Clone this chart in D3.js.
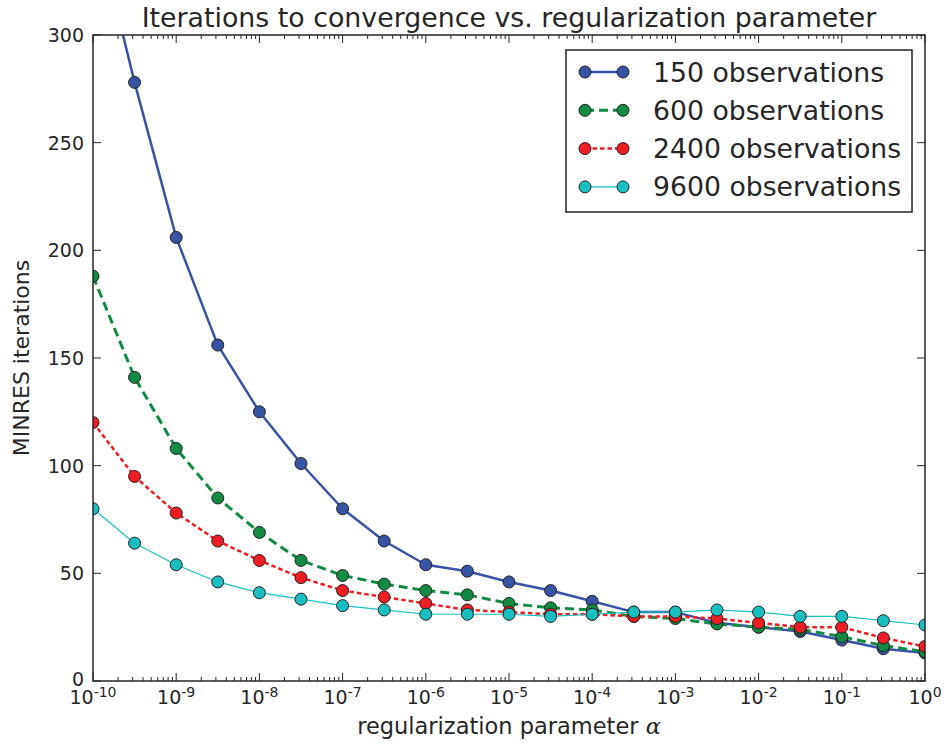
<!DOCTYPE html>
<html>
<head>
<meta charset="utf-8">
<script src="https://cdn.jsdelivr.net/npm/d3@7"></script>
<style>
  html, body { margin: 0; padding: 0; background: #fff; }
  svg { display: block; font-family: "DejaVu Sans", sans-serif; }
</style>
</head>
<body>
<svg id="chart" width="944" height="744"></svg>
<script>
// ---- data ----
const alphas = [1e-10, 3.16e-10, 1e-9, 3.16e-9, 1e-8, 3.16e-8, 1e-7, 3.16e-7, 1e-6, 3.16e-6,
                1e-5, 3.16e-5, 1e-4, 3.16e-4, 1e-3, 3.16e-3, 1e-2, 3.16e-2, 1e-1, 3.16e-1, 1];
const obs150  = [357, 278, 206, 156, 125, 101, 80, 65, 54, 51, 46, 42, 37, 32, 32, 27, 25, 23, 19, 15, 13];
const obs600  = [188, 141, 108, 85, 69, 56, 49, 45, 42, 40, 36, 34, 33, 30, 29, 26.5, 25, 24, 20.6, 16.4, 13.6];
const obs2400 = [120, 95, 78, 65, 56, 48, 42, 39, 36, 33, 32, 31, 31, 30, 30, 29, 27, 25, 25, 20, 16];
const obs9600 = [80, 64, 54, 46, 41, 38, 35, 33, 31, 31, 31, 30, 31, 32, 32, 33, 32, 30, 30, 28, 26];
const seriesNames = ["150 observations", "600 observations", "2400 observations", "9600 observations"];
const yTicks = [0, 50, 100, 150, 200, 250, 300];
const xExponents = [-10, -9, -8, -7, -6, -5, -4, -3, -2, -1, 0];

const series = [
  { name: seriesNames[0], values: obs150,  color: "#3953a4", width: 2.5, dash: null },
  { name: seriesNames[1], values: obs600,  color: "#138a43", width: 3,   dash: "9,5" },
  { name: seriesNames[2], values: obs2400, color: "#ee1d23", width: 2.5, dash: "4.5,3" },
  { name: seriesNames[3], values: obs9600, color: "#19bfbf", width: 1.2, dash: null }
];

// ---- layout ----
const L = 93, R = 925, T = 35, B = 681;
const svg = d3.select("#chart");
const x = d3.scaleLog().domain([1e-10, 1]).range([L, R]);
const y = d3.scaleLinear().domain([0, 300]).range([B, T]);

svg.append("defs").append("clipPath").attr("id", "clip")
  .append("rect").attr("x", L).attr("y", T).attr("width", R - L).attr("height", B - T);

const axisColor = "#262626";

// minor ticks on log axis
const minorVals = [];
for (let e = -10; e < 0; e++) for (let k = 2; k <= 9; k++) minorVals.push(k * Math.pow(10, e));

// bottom & top axes (ticks inward)
function xAxisTicks(yPos, dir) {
  const g = svg.append("g");
  g.selectAll("line.maj").data(xExponents).enter().append("line")
    .attr("x1", d => x(Math.pow(10, d))).attr("x2", d => x(Math.pow(10, d)))
    .attr("y1", yPos).attr("y2", yPos + dir * 8)
    .attr("stroke", axisColor).attr("stroke-width", 1);
  g.selectAll("line.min").data(minorVals).enter().append("line")
    .attr("x1", d => x(d)).attr("x2", d => x(d))
    .attr("y1", yPos).attr("y2", yPos + dir * 4)
    .attr("stroke", axisColor).attr("stroke-width", 1);
}
xAxisTicks(B, -1);
xAxisTicks(T, 1);

function yAxisTicks(xPos, dir) {
  const g = svg.append("g");
  g.selectAll("line").data(yTicks).enter().append("line")
    .attr("x1", xPos).attr("x2", xPos + dir * 8)
    .attr("y1", d => y(d)).attr("y2", d => y(d))
    .attr("stroke", axisColor).attr("stroke-width", 1);
}
yAxisTicks(L, 1);
yAxisTicks(R, -1);

// x tick labels
const xl = svg.append("g").attr("fill", "#262626");
xExponents.forEach(e => {
  const t = xl.append("text").attr("x", x(Math.pow(10, e))).attr("y", 704)
    .attr("text-anchor", "middle").attr("font-size", 19);
  t.append("tspan").text("10");
  t.append("tspan").attr("font-size", 14).attr("dy", -7).text(e === 0 ? "0" : "-" + Math.abs(e));
});

// y tick labels
svg.append("g").selectAll("text").data(yTicks).enter().append("text")
  .attr("x", 84).attr("y", d => y(d) + (d === 0 ? 5 : 7)).attr("text-anchor", "end")
  .attr("font-size", 19).attr("fill", "#262626").text(d => d);

// lines and markers
const plot = svg.append("g").attr("clip-path", "url(#clip)");
const line = d3.line().x((d, i) => x(alphas[i])).y(d => y(d));
series.forEach(s => {
  plot.append("path").datum(s.values).attr("d", line)
    .attr("fill", "none").attr("stroke", s.color).attr("stroke-width", s.width)
    .attr("stroke-dasharray", s.dash).attr("stroke-linejoin", "round");
});
series.forEach(s => {
  plot.selectAll(null).data(s.values).enter().append("circle")
    .attr("cx", (d, i) => x(alphas[i])).attr("cy", d => y(d)).attr("r", 6)
    .attr("fill", s.color).attr("stroke", "#222").attr("stroke-width", 1);
});

// frame
svg.append("rect").attr("x", L).attr("y", T).attr("width", R - L).attr("height", B - T)
  .attr("fill", "none").attr("stroke", axisColor).attr("stroke-width", 1.5);

// title & labels
svg.append("text").attr("x", (L + R) / 2).attr("y", 27).attr("text-anchor", "middle")
  .attr("font-size", 26.8).attr("fill", "#262626")
  .text("Iterations to convergence vs. regularization parameter");

const xlab = svg.append("text").attr("x", (L + R) / 2).attr("y", 734).attr("text-anchor", "middle")
  .attr("font-size", 22.5).attr("fill", "#262626");
xlab.append("tspan").text("regularization parameter ");
xlab.append("tspan").attr("font-family", "DejaVu Serif, serif").attr("font-style", "italic").text("α");

svg.append("text").attr("transform", `translate(29,${(T + B) / 2}) rotate(-90)`)
  .attr("text-anchor", "middle").attr("font-size", 22).attr("fill", "#262626")
  .text("MINRES iterations");

// legend
const lg = svg.append("g");
lg.append("rect").attr("x", 566).attr("y", 50).attr("width", 346).attr("height", 162)
  .attr("fill", "#fff").attr("stroke", "#222").attr("stroke-width", 1.5);
series.forEach((s, i) => {
  const cy = 72 + i * 38.3;
  lg.append("line").attr("x1", 585).attr("x2", 623).attr("y1", cy).attr("y2", cy)
    .attr("stroke", s.color).attr("stroke-width", s.width).attr("stroke-dasharray", s.dash);
  [585, 623].forEach(cx => lg.append("circle").attr("cx", cx).attr("cy", cy).attr("r", 6)
    .attr("fill", s.color).attr("stroke", "#222").attr("stroke-width", 1));
  lg.append("text").attr("x", 653).attr("y", cy + 9.5).attr("font-size", 26.7)
    .attr("fill", "#262626").text(s.name);
});
</script>
</body>
</html>
